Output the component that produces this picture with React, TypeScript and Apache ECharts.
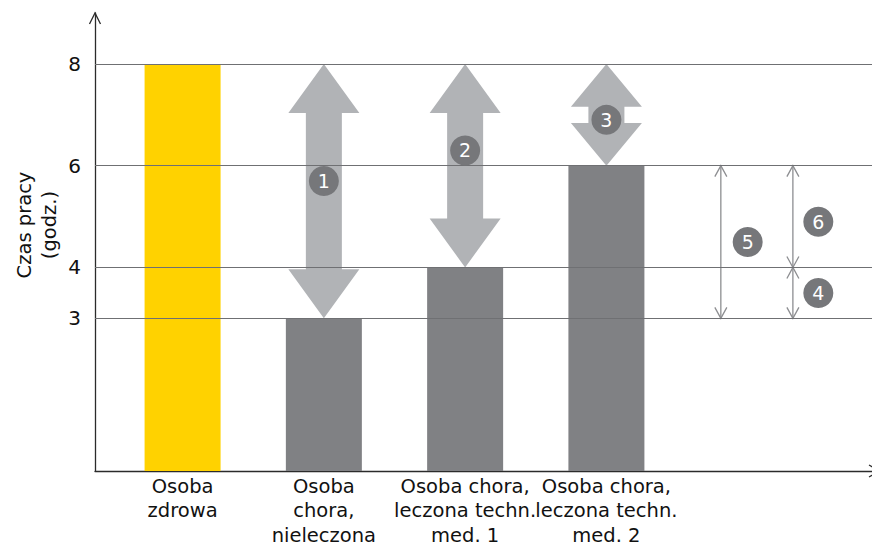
import React, { useEffect, useRef } from "react";
import * as echarts from "echarts";

// ---- data ----
const categories = [
  "Osoba\nzdrowa",
  "Osoba\nchora,\nnieleczona",
  "Osoba chora,\nleczona techn.\nmed. 1",
  "Osoba chora,\nleczona techn.\nmed. 2",
];
const hours = [8, 3, 4, 6];
const yTickValues = [3, 4, 6, 8];
const yAxisTitle = "Czas pracy\n(godz.)";

// big gap arrows: category index, from value, to value
const gapCategory = [1, 2, 3];
const gapFrom = [8, 8, 8];
const gapTo = [3, 4, 6];
const gapLabels = ["1", "2", "3"];
const gapLabelValue = [5.7, 6.3, 6.9];

// thin comparison arrows on the right
const cmpX = [3.81, 4.32, 4.32];
const cmpFrom = [6, 6, 4];
const cmpTo = [3, 4, 3];
const cmpLabels = ["5", "6", "4"];
const cmpLabelX = [4.0, 4.5, 4.5];
const cmpLabelValue = [4.5, 4.9, 3.5];

const FONT = "DejaVu Sans";
const YELLOW = "#ffd200";
const BAR_GRAY = "#808184";
const ARROW_GRAY = "#b1b3b6";
const DOT_GRAY = "#76777a";
const LINE_GRAY = "#6f7073";
const THIN_GRAY = "#8d8e91";

export default function App() {
  const ref = useRef<HTMLDivElement>(null);
  useEffect(() => {
    if (!ref.current) return;
    const chart = echarts.init(ref.current, null, { renderer: "svg" });

    const gridLeft = 95;
    const gridTop = 13;
    const axisY = 471;

    const barData = hours.map((v, i) => ({
      value: [i, v],
      itemStyle: { color: i === 0 ? YELLOW : BAR_GRAY },
    }));

    const gapData = gapCategory.map((c, i) => [c, gapFrom[i], gapTo[i]]);
    const cmpData = cmpX.map((x, i) => [x, cmpFrom[i], cmpTo[i]]);
    const dotData = [
      ...gapCategory.map((c, i) => [c, gapLabelValue[i], gapLabels[i]]),
      ...cmpLabelX.map((x, i) => [x, cmpLabelValue[i], cmpLabels[i]]),
    ];
    const catLabelData = categories.map((c, i) => [i, 0, c]);

    chart.setOption({
      animation: false,
      grid: { left: gridLeft, right: 0, top: gridTop, bottom: 546 - axisY },
      xAxis: {
        type: "value",
        min: -0.62,
        max: 4.88,
        splitLine: { show: false },
        axisTick: { show: false },
        axisLine: { show: true, onZero: false, lineStyle: { color: "#2b2b2b", width: 1.3 } },
        axisLabel: { show: false },
      },
      yAxis: {
        type: "value",
        min: 0,
        max: 9,
        interval: 1,
        splitLine: { show: false },
        axisTick: { show: false },
        axisLine: { show: true, onZero: false, lineStyle: { color: "#2b2b2b", width: 1.3 } },
        axisLabel: {
          formatter: (v: number) => (yTickValues.includes(v) ? String(v) : ""),
          fontFamily: FONT,
          fontSize: 20,
          color: "#111",
          margin: 14,
        },
      },
      series: [
        {
          type: "bar",
          data: barData,
          barWidth: 76,
          z: 2,
        },
        {
          type: "custom",
          z: 3,
          encode: { x: 0, y: [1, 2] },
          data: gapData,
          renderItem: (params: any, api: any) => {
            const x = api.value(0);
            const top = api.coord([x, api.value(1)]);
            const bot = api.coord([x, api.value(2)]);
            const cx = top[0];
            const t = top[1];
            const b = bot[1];
            const span = b - t;
            const head = Math.min(49, span * 0.42);
            const hw = 35.5;
            const sw = 18;
            return {
              type: "polygon",
              shape: {
                points: [
                  [cx, t],
                  [cx + hw, t + head],
                  [cx + sw, t + head],
                  [cx + sw, b - head],
                  [cx + hw, b - head],
                  [cx, b],
                  [cx - hw, b - head],
                  [cx - sw, b - head],
                  [cx - sw, t + head],
                  [cx - hw, t + head],
                ],
              },
              style: { fill: ARROW_GRAY },
            };
          },
        },
        {
          type: "custom",
          z: 4,
          encode: { x: 0, y: [1, 2] },
          data: cmpData,
          renderItem: (params: any, api: any) => {
            const x = api.value(0);
            const top = api.coord([x, api.value(1)]);
            const bot = api.coord([x, api.value(2)]);
            const cx = top[0];
            const t = top[1];
            const b = bot[1];
            const hw = 6;
            const hh = 11;
            const st = { stroke: THIN_GRAY, lineWidth: 1.3, fill: "none" };
            return {
              type: "group",
              children: [
                { type: "line", shape: { x1: cx, y1: t, x2: cx, y2: b }, style: st },
                {
                  type: "polyline",
                  shape: { points: [[cx - hw, t + hh], [cx, t], [cx + hw, t + hh]] },
                  style: st,
                },
                {
                  type: "polyline",
                  shape: { points: [[cx - hw, b - hh], [cx, b], [cx + hw, b - hh]] },
                  style: st,
                },
              ],
            };
          },
        },
        {
          type: "custom",
          z: 4,
          silent: true,
          clip: false,
          encode: { x: 0, y: 1 },
          data: catLabelData,
          renderItem: (params: any, api: any) => {
            const p = api.coord([api.value(0), 0]);
            return {
              type: "text",
              x: p[0],
              y: p[1] + 3,
              style: {
                text: categories[params.dataIndex],
                fontFamily: FONT,
                fontSize: 19.5,
                lineHeight: 24.5,
                fill: "#111",
                textAlign: "center",
                textVerticalAlign: "top",
              },
            };
          },
        },
        {
          type: "scatter",
          z: 6,
          data: dotData,
          symbol: "circle",
          symbolSize: 30,
          itemStyle: { color: DOT_GRAY, opacity: 1 },
          label: {
            show: true,
            position: "inside",
            formatter: (p: any) => p.value[2],
            color: "#ffffff",
            fontFamily: FONT,
            fontSize: 19,
          },
          markLine: {
            silent: true,
            symbol: "none",
            z: 5,
            label: { show: false },
            lineStyle: { color: LINE_GRAY, width: 1, type: "solid" },
            data: yTickValues.map((v) => ({ yAxis: v })),
          },
        },
      ],
      graphic: [
        {
          type: "text",
          x: 37,
          y: 225,
          rotation: Math.PI / 2,
          style: {
            text: yAxisTitle,
            fontFamily: FONT,
            fontSize: 19.5,
            lineHeight: 24.5,
            fill: "#111",
            textAlign: "center",
            textVerticalAlign: "middle",
          },
        },
        {
          type: "polyline",
          shape: { points: [[gridLeft - 5.5, gridTop + 11], [gridLeft, gridTop], [gridLeft + 5.5, gridTop + 11]] },
          style: { stroke: "#2b2b2b", lineWidth: 1.3, fill: "none" },
        },
        {
          type: "polyline",
          shape: { points: [[869, axisY - 6], [880, axisY], [869, axisY + 6]] },
          style: { stroke: "#2b2b2b", lineWidth: 1.3, fill: "none" },
        },
      ],
    });
    return () => chart.dispose();
  }, []);
  return (
    <div
      ref={ref}
      style={{ position: "absolute", left: 0, top: 0, width: 872, height: 546, background: "#fff" }}
    />
  );
}
